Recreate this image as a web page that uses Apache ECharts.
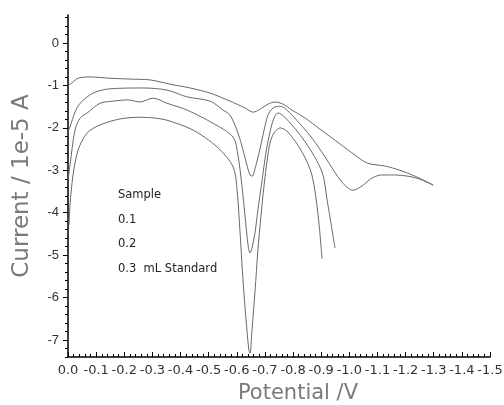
<!DOCTYPE html>
<html>
<head>
<meta charset="utf-8">
<script src="https://cdn.jsdelivr.net/npm/echarts@6/dist/echarts.min.js"></script>
<style>
html,body{margin:0;padding:0;background:#fff;}
#c{width:504px;height:405px;}
</style>
</head>
<body>
<div id="c"></div>
<script>
// Potential (V) and current (1e-5 A)
const sampleX = [0,-0.014,-0.036,-0.078,-0.149,-0.220,-0.292,-0.363,-0.434,-0.505,-0.576,-0.629,-0.658,-0.683,-0.711,-0.736,-0.764,-0.796,-0.843,-0.896,-0.967,-1.020,-1.063,-1.127,-1.180,-1.234,-1.269,-1.298];
const sampleY = [-1.01,-0.94,-0.83,-0.80,-0.83,-0.85,-0.87,-0.97,-1.06,-1.18,-1.37,-1.53,-1.63,-1.56,-1.44,-1.39,-1.44,-1.58,-1.77,-2.03,-2.38,-2.64,-2.83,-2.90,-3.00,-3.14,-3.25,-3.35];

const add01X = [0,-0.007,-0.025,-0.043,-0.089,-0.149,-0.267,-0.352,-0.423,-0.505,-0.551,-0.576,-0.604,-0.622,-0.636,-0.647,-0.654,-0.668,-0.683,-0.697,-0.711,-0.729,-0.754,-0.796,-0.867,-0.914,-0.974,-1.013,-1.045,-1.081,-1.116,-1.162,-1.209,-1.251,-1.298];
const add01Y = [-2.10,-1.98,-1.63,-1.42,-1.18,-1.08,-1.06,-1.11,-1.27,-1.37,-1.58,-1.70,-2.12,-2.52,-2.88,-3.11,-3.14,-2.88,-2.48,-2.05,-1.70,-1.53,-1.49,-1.70,-2.24,-2.69,-3.28,-3.47,-3.37,-3.18,-3.11,-3.11,-3.14,-3.21,-3.35];

const add02X = [0,-0.007,-0.025,-0.043,-0.068,-0.114,-0.160,-0.210,-0.256,-0.302,-0.352,-0.423,-0.515,-0.587,-0.604,-0.618,-0.629,-0.640,-0.647,-0.654,-0.665,-0.675,-0.690,-0.704,-0.718,-0.732,-0.747,-0.771,-0.843,-0.903,-0.921,-0.949];
const add02Y = [-3.23,-2.88,-2.05,-1.77,-1.65,-1.42,-1.37,-1.34,-1.39,-1.30,-1.42,-1.58,-1.89,-2.22,-2.64,-3.35,-4.06,-4.76,-4.95,-4.83,-4.46,-3.94,-3.23,-2.57,-2.10,-1.77,-1.65,-1.75,-2.33,-3.04,-3.70,-4.83];

const add03X = [-0.004,-0.007,-0.018,-0.036,-0.068,-0.114,-0.185,-0.256,-0.309,-0.352,-0.444,-0.530,-0.587,-0.601,-0.611,-0.622,-0.633,-0.643,-0.647,-0.654,-0.665,-0.675,-0.686,-0.697,-0.708,-0.718,-0.732,-0.754,-0.782,-0.832,-0.867,-0.889,-0.903];
const add03Y = [-4.29,-3.82,-3.11,-2.52,-2.12,-1.93,-1.79,-1.75,-1.77,-1.82,-2.05,-2.45,-2.92,-3.47,-4.41,-5.59,-6.53,-7.24,-7.31,-6.77,-5.83,-4.88,-4.06,-3.35,-2.76,-2.36,-2.12,-2.00,-2.10,-2.57,-3.11,-4.06,-5.09];

const legendLines = ['Sample', '0.1', '0.2', '0.3  mL Standard'];
const yTickValues = [0,-1,-2,-3,-4,-5,-6,-7];

const pairs = (xs, ys) => xs.map((x, i) => [x, ys[i]]);
const minorY = [];
for (let v = -74; v <= 6; v += 2) minorY.push(v / 10);

const lineStyle = { color: '#6a6a6a', width: 1 };
const mk = (name, xs, ys) => ({
  type: 'line', name, data: pairs(xs, ys), showSymbol: false, symbol: 'none',
  smooth: 0.3, lineStyle, animation: false
});

const chart = echarts.init(document.getElementById('c'));
chart.setOption({
  backgroundColor: '#fff',
  animation: false,
  grid: { left: 68, right: 14, top: 15, bottom: 48, outerBoundsMode: 'none', containLabel: false },
  xAxis: {
    type: 'value', min: -1.5, max: 0, interval: 0.1, inverse: true,
    name: 'Potential /V', nameLocation: 'middle', nameGap: 26,
    nameTextStyle: { color: '#7a7a7a', fontSize: 21, fontFamily: 'DejaVu Sans', padding: [0, 0, 0, 38] },
    axisLine: { onZero: false, lineStyle: { color: '#000', width: 1.5 } },
    axisTick: { inside: true, length: 5, lineStyle: { color: '#000' } },
    minorTick: { show: true, splitNumber: 5, length: 3, lineStyle: { color: '#000' } },
    axisLabel: { color: '#333', fontSize: 13, fontFamily: 'DejaVu Sans', margin: 7,
      formatter: v => (Math.abs(v) < 1e-9 ? '0.0' : v.toFixed(1)) },
    splitLine: { show: false }
  },
  yAxis: [{
    type: 'value', min: -7.4, max: 0.66,
    name: 'Current / 1e-5 A', nameLocation: 'middle', nameGap: 34,
    nameTextStyle: { color: '#7a7a7a', fontSize: 23, fontFamily: 'DejaVu Sans' },
    axisLine: { onZero: false, lineStyle: { color: '#000', width: 1.5 } },
    axisTick: { length: 5, customValues: yTickValues, lineStyle: { color: '#000' } },
    axisLabel: { color: '#333', fontSize: 13, fontFamily: 'Liberation Sans', margin: 9,
      customValues: yTickValues, formatter: v => String(Math.round(v)) },
    splitLine: { show: false }
  }, {
    type: 'value', min: -7.4, max: 0.66, position: 'left',
    axisLine: { show: false },
    axisTick: { length: 3, customValues: minorY, lineStyle: { color: '#000' } },
    axisLabel: { show: false },
    splitLine: { show: false }
  }],
  series: [
    mk('Sample', sampleX, sampleY),
    mk('0.1', add01X, add01Y),
    mk('0.2', add02X, add02Y),
    mk('0.3 mL Standard', add03X, add03Y)
  ],
  graphic: legendLines.map((t, i) => ({
    type: 'text', left: 118, top: 189.5 + i * 24.5,
    style: { text: t, fill: '#222', font: '11.5px "DejaVu Sans"' }
  }))
});
</script>
</body>
</html>
